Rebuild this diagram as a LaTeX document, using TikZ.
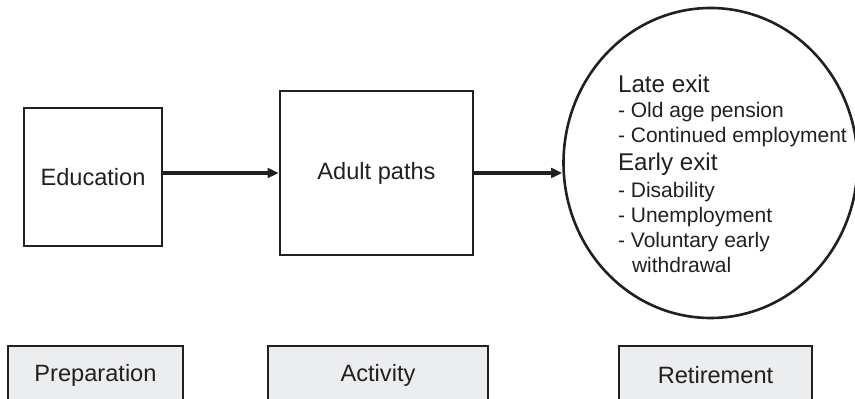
\documentclass[tikz,border=0pt]{standalone}
\usepackage{fontspec}
\setmainfont{Liberation Sans}
\usetikzlibrary{arrows.meta,shapes.geometric}
\definecolor{ink}{HTML}{231F20}
\definecolor{phasegray}{HTML}{ECEDEF}
\newcommand{\exithead}[1]{{\fontsize{12.1}{12.5}\selectfont #1}}

\begin{document}
\begin{tikzpicture}[x=0.5pt,y=-0.5pt,
	every node/.style={text=ink,font=\fontsize{11.8}{14}\selectfont},
	stagebox/.style={draw=ink,line width=1.3pt,inner sep=0pt},
	phasebox/.style={stagebox,fill=phasegray,minimum height=29pt},
	flow/.style={draw=ink,line width=1.6pt,-{Triangle[length=5.5pt,width=4.8pt]}}]
		\useasboundingbox (0,0) rectangle (855,399);
		% life course stages
		\node[stagebox,minimum width=69pt,minimum height=69pt] (edu) at (93,177) {Education};
		\node[stagebox,minimum width=96.5pt,minimum height=82pt] (adult) at (376.5,173) {Adult paths};
		\node[stagebox,ellipse,minimum width=147pt,minimum height=155pt] (exits) at (710.5,163) {};
		\node[anchor=west,align=left,font=\fontsize{10.5}{12.5}\selectfont] (exittext) at (611,174) {%
			\exithead{Late exit}\\
			- Old age pension\\
			- Continued employment\\[1.5pt]
			\exithead{Early exit}\\[1pt]
			- Disability\\
			- Unemployment\\
			- Voluntary early\\
			\hspace*{7pt}withdrawal};
		\draw[flow] (edu.east |- adult.west) -- (adult.west);
		\draw[flow] (adult.east) -- (adult.east -| exits.west);
		% phases
		\node[phasebox,minimum width=87.5pt] (prep) at (95.5,375) {Preparation};
		\node[phasebox,minimum width=110pt] (activ) at (378,375) {Activity};
		\node[phasebox,minimum width=96.5pt] (retire) at (715.5,375) {Retirement};
	\end{tikzpicture}
\end{document}
